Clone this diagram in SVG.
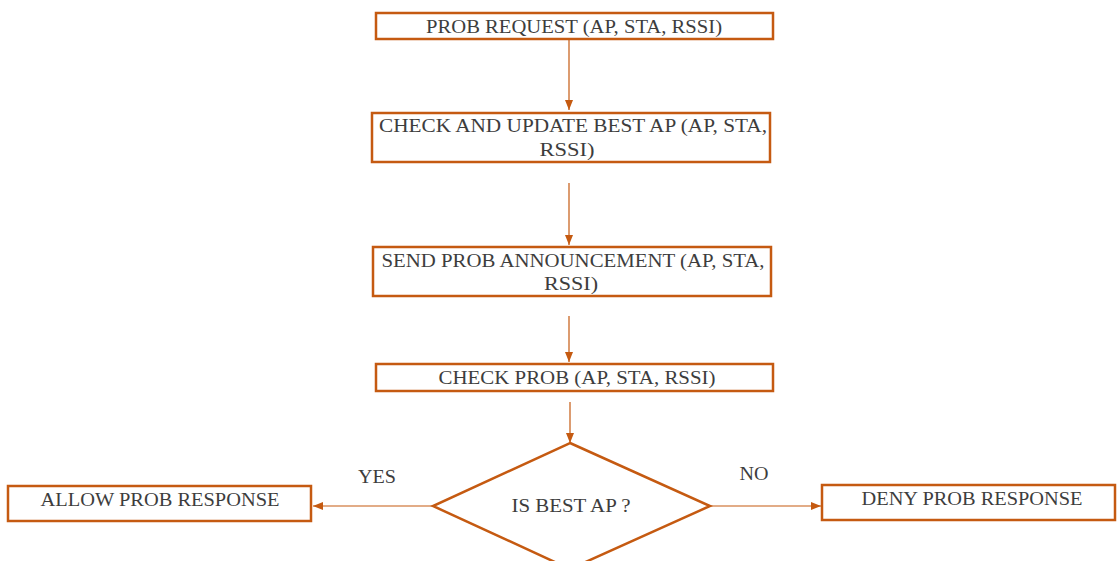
<svg xmlns="http://www.w3.org/2000/svg" width="1117" height="561" viewBox="0 0 1117 561">
<style>
.box{fill:#fff;stroke:#C55A11;stroke-width:2.5}
.t{font-family:"Liberation Serif","Times New Roman",serif;font-size:19.5px;fill:#3d3d3d;text-anchor:middle}
.c{stroke:#C55A11;stroke-width:1.2;fill:none}
</style>
<defs>
<marker id="ah" markerWidth="10" markerHeight="8" refX="10" refY="4" orient="auto" markerUnits="userSpaceOnUse">
<path d="M0,0 L10,4 L0,8 z" fill="#C55A11"/>
</marker>
</defs>
<rect width="1117" height="561" fill="#fff"/>
<g id="connectors">
<line class="c" x1="569" y1="40" x2="569" y2="110" marker-end="url(#ah)"/>
<line class="c" x1="569" y1="183" x2="569" y2="245" marker-end="url(#ah)"/>
<line class="c" x1="569" y1="316" x2="569" y2="362" marker-end="url(#ah)"/>
<line class="c" x1="570" y1="402" x2="570" y2="443" marker-end="url(#ah)"/>
<line class="c" x1="433" y1="506" x2="313" y2="506" marker-end="url(#ah)"/>
<line class="c" x1="710" y1="506" x2="821" y2="506" marker-end="url(#ah)"/>
<text class="t" x="377" y="483" textLength="38" lengthAdjust="spacingAndGlyphs">YES</text>
<text class="t" x="754" y="480" textLength="29" lengthAdjust="spacingAndGlyphs">NO</text>
</g>
<g id="n1">
<rect class="box" x="376" y="13" width="397" height="26"/>
<text class="t" x="574" y="33" textLength="296" lengthAdjust="spacingAndGlyphs">PROB REQUEST (AP, STA, RSSI)</text>
</g>
<g id="n2">
<rect class="box" x="372" y="113" width="398" height="49"/>
<text class="t" x="573" y="132" textLength="388" lengthAdjust="spacingAndGlyphs">CHECK AND UPDATE BEST AP (AP, STA,</text>
<text class="t" x="567" y="156" textLength="55" lengthAdjust="spacingAndGlyphs">RSSI)</text>
</g>
<g id="n3">
<rect class="box" x="373" y="247" width="398" height="49"/>
<text class="t" x="573" y="267" textLength="383" lengthAdjust="spacingAndGlyphs">SEND PROB ANNOUNCEMENT (AP, STA,</text>
<text class="t" x="571" y="290" textLength="54" lengthAdjust="spacingAndGlyphs">RSSI)</text>
</g>
<g id="n4">
<rect class="box" x="376" y="364" width="397" height="27"/>
<text class="t" x="577" y="384" textLength="277" lengthAdjust="spacingAndGlyphs">CHECK PROB (AP, STA, RSSI)</text>
</g>
<g id="n5">
<path class="box" d="M570,443 L710,506 L570,569 L433,506 Z"/>
<text class="t" x="571" y="512" textLength="119" lengthAdjust="spacingAndGlyphs">IS BEST AP ?</text>
</g>
<g id="n6">
<rect class="box" x="8" y="486" width="303" height="35"/>
<text class="t" x="160" y="506" textLength="239" lengthAdjust="spacingAndGlyphs">ALLOW PROB RESPONSE</text>
</g>
<g id="n7">
<rect class="box" x="822" y="485" width="293" height="35"/>
<text class="t" x="972" y="505" textLength="221" lengthAdjust="spacingAndGlyphs">DENY PROB RESPONSE</text>
</g>
</svg>
